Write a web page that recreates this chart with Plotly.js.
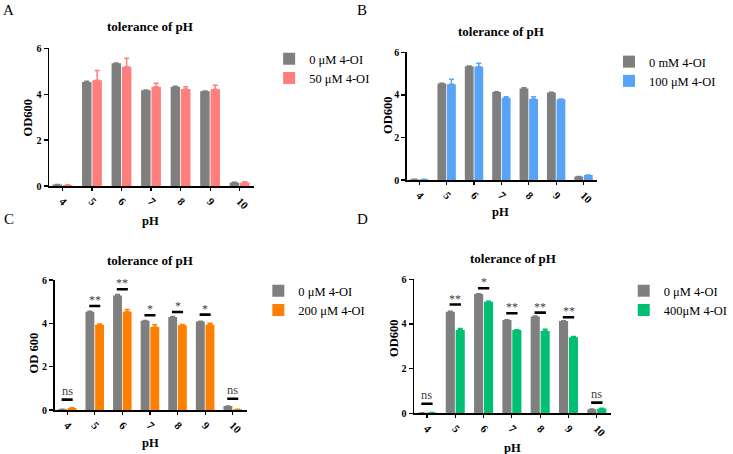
<!DOCTYPE html>
<html>
<head>
<meta charset="utf-8">
<script src="https://cdn.plot.ly/plotly-3.0.1.min.js"></script>
<style>
  html, body { margin: 0; padding: 0; background: #fff; }
  #chart { width: 733px; height: 454px; }
</style>
</head>
<body>
<div id="chart"></div>
<script>
// pH categories shared by all four panels
const phLabels = ['4', '5', '6', '7', '8', '9', '10'];

// Panel A: control vs 50 µM 4-OI
const ctrlA = [0.06, 4.53, 5.35, 4.17, 4.32, 4.13, 0.15];
const ctrlAErr = [0.01, 0.03, 0.01, 0.01, 0.03, 0.01, 0.01];
const oi50 = [0.04, 4.61, 5.20, 4.32, 4.23, 4.22, 0.15];
const oi50Err = [0.01, 0.42, 0.37, 0.16, 0.10, 0.17, 0.03];

// Panel B: control vs 100 µM 4-OI
const ctrlB = [0.03, 4.53, 5.35, 4.14, 4.30, 4.11, 0.16];
const ctrlBErr = [0.00, 0.02, 0.01, 0.01, 0.04, 0.01, 0.01];
const oi100 = [0.03, 4.50, 5.32, 3.86, 3.81, 3.79, 0.23];
const oi100Err = [0.00, 0.23, 0.17, 0.05, 0.10, 0.01, 0.01];

// Panel C: control vs 200 µM 4-OI, with significance marks
const ctrlC = [0.03, 4.54, 5.28, 4.12, 4.29, 4.09, 0.18];
const ctrlCErr = [0.00, 0.02, 0.05, 0.01, 0.03, 0.01, 0.01];
const oi200 = [0.09, 3.94, 4.54, 3.83, 3.91, 3.94, 0.03];
const oi200Err = [0.01, 0.03, 0.10, 0.10, 0.04, 0.06, 0.00];
const sigC = [0.48, 4.80, 5.57, 4.37, 4.52, 4.40, 0.52];
const marksC = ['ns', '**', '**', '*', '*', '*', 'ns'];

// Panel D: control vs 400 µM 4-OI, with significance marks
const ctrlD = [0.03, 4.55, 5.34, 4.18, 4.33, 4.13, 0.18];
const ctrlDErr = [0.00, 0.02, 0.01, 0.01, 0.03, 0.01, 0.01];
const oi400 = [0.04, 3.73, 5.00, 3.73, 3.69, 3.40, 0.21];
const oi400Err = [0.00, 0.07, 0.02, 0.01, 0.07, 0.04, 0.02];
const sigD = [0.43, 4.87, 5.60, 4.48, 4.51, 4.30, 0.48];
const marksD = ['ns', '**', '*', '**', '**', '**', 'ns'];

const yTicks = [0, 2, 4, 6];

const GRAY = '#7f7f7f';
const PINK = '#ff7f7f';
const BLUE = '#56a3f7';
const ORANGE = '#ff8000';
const GREEN = '#00bf72';

const SERIF = 'Liberation Serif';
const W = 733, H = 454;
const px = v => v / W;          // pixel column -> paper x
const py = v => 1 - v / H;      // pixel row -> paper y

function barTrace(name, y, err, color, xa, ya, legend) {
  return {
    type: 'bar', name: name, x: phLabels, y: y,
    xaxis: xa, yaxis: ya, legend: legend,
    marker: { color: color, line: { width: 0 } },
    error_y: { type: 'data', array: err, arrayminus: err.map(() => 0), symmetric: false,
               color: color, thickness: 1.5, width: 2.5 }
  };
}

const traces = [
  barTrace('0 μM 4-OI', ctrlA, ctrlAErr, GRAY, 'x', 'y', 'legend'),
  barTrace('50 μM 4-OI', oi50, oi50Err, PINK, 'x', 'y', 'legend'),
  barTrace('0 mM 4-OI', ctrlB, ctrlBErr, GRAY, 'x2', 'y2', 'legend2'),
  barTrace('100 μM 4-OI', oi100, oi100Err, BLUE, 'x2', 'y2', 'legend2'),
  barTrace('0 μM 4-OI', ctrlC, ctrlCErr, GRAY, 'x3', 'y3', 'legend3'),
  barTrace('200 μM 4-OI', oi200, oi200Err, ORANGE, 'x3', 'y3', 'legend3'),
  barTrace('0 μM 4-OI', ctrlD, ctrlDErr, GRAY, 'x4', 'y4', 'legend4'),
  barTrace('400μM 4-OI', oi400, oi400Err, GREEN, 'x4', 'y4', 'legend4')
];

function xAxis(left, right, yName) {
  return {
    type: 'category', domain: [px(left), px(right)], anchor: yName,
    range: [-0.45, 6.5], showline: true, linecolor: '#000', linewidth: 1.6,
    ticks: 'outside', ticklen: 3, tickwidth: 1.2, tickcolor: '#000',
    tickangle: 45, showgrid: false, zeroline: false, fixedrange: true,
    tickfont: { family: SERIF, size: 11, color: '#000', weight: 'bold' }
  };
}
function yAxis(bottom, top, xName) {
  return {
    domain: [py(bottom), py(top)], anchor: xName, range: [0, 6],
    tickvals: yTicks, showline: true, linecolor: '#000', linewidth: 1.6,
    ticks: 'outside', ticklen: 4, tickwidth: 1.4, tickcolor: '#000',
    showgrid: false, zeroline: false, fixedrange: true,
    tickfont: { family: SERIF, size: 10, color: '#000', weight: 'bold' }
  };
}

function legendBox(left, top) {
  return {
    x: px(left), y: py(top), xanchor: 'left', yanchor: 'top',
    bgcolor: 'rgba(0,0,0,0)', borderwidth: 0, traceorder: 'normal',
    font: { family: SERIF, size: 12.5, color: '#000' }
  };
}

const annotations = [];
const shapes = [];

function text(x, y, str, size, bold, angle) {
  annotations.push({
    xref: 'paper', yref: 'paper', x: px(x), y: py(y), text: str,
    showarrow: false, xanchor: 'center', yanchor: 'middle', textangle: angle || 0,
    font: { family: SERIF, size: size, color: '#000', weight: bold ? 'bold' : 'normal' }
  });
}

// Panel letters
text(9, 10, 'A', 15, false);
text(369, 10, 'B', 15, false);
text(9, 219, 'C', 15, false);
text(369, 219, 'D', 15, false);

// Panel titles
text(153, 26, 'tolerance of pH', 13, true);
text(510, 32, 'tolerance of pH', 13, true);
text(153, 260, 'tolerance of pH', 13, true);
text(522, 258, 'tolerance of pH', 13, true);

// y-axis titles
text(29, 117, 'OD600', 12.5, true, -90);
text(395, 115, 'OD600', 12.5, true, -90);
text(35, 353, 'OD 600', 12.5, true, -90);
text(401, 338, 'OD600', 12.5, true, -90);

// x-axis titles
text(153, 221, 'pH', 12.5, true);
text(510, 212, 'pH', 12.5, true);
text(153, 443, 'pH', 12.5, true);
text(522, 448, 'pH', 12.5, true);

// Significance bars and labels, placed on each panel's own data scale
function addMarks(levels, marks, xa, ya) {
  levels.forEach((lv, i) => {
    const isNs = marks[i] === 'ns';
    shapes.push({
      type: 'line', xref: xa, yref: ya, x0: i - 0.2, x1: i + 0.2, y0: lv, y1: lv,
      line: { color: '#000', width: 2.6 }
    });
    annotations.push({
      xref: xa, yref: ya, x: i, y: lv, text: marks[i], showarrow: false,
      xanchor: 'center', yanchor: 'bottom', yshift: isNs ? 0 : -3,
      font: { family: SERIF, size: isNs ? 12.5 : 12, color: 'rgba(51,51,51,0.98)' }
    });
  });
}
addMarks(sigC, marksC, 'x3', 'y3');
addMarks(sigD, marksD, 'x4', 'y4');

const layout = {
  width: W, height: H,
  margin: { l: 0, r: 0, t: 0, b: 0 },
  paper_bgcolor: '#fff', plot_bgcolor: '#fff',
  font: { family: SERIF },
  barmode: 'group', bargap: 0.3, bargroupgap: 0.08,
  showlegend: true,
  xaxis: xAxis(50, 259, 'y'),   yaxis: yAxis(186, 48.3, 'x'),
  xaxis2: xAxis(414.3, 608, 'y2'), yaxis2: yAxis(180, 52.3, 'x2'),
  xaxis3: xAxis(55.7, 251, 'y3'), yaxis3: yAxis(410, 280, 'x3'),
  xaxis4: xAxis(421.7, 622, 'y4'), yaxis4: yAxis(413.3, 279.3, 'x4'),
  legend: legendBox(274, 44),
  legend2: legendBox(620, 47),
  legend3: legendBox(263, 276),
  legend4: legendBox(635, 276),
  annotations: annotations,
  shapes: shapes
};

Plotly.newPlot('chart', traces, layout, { displayModeBar: false, staticPlot: true });
</script>
</body>
</html>
